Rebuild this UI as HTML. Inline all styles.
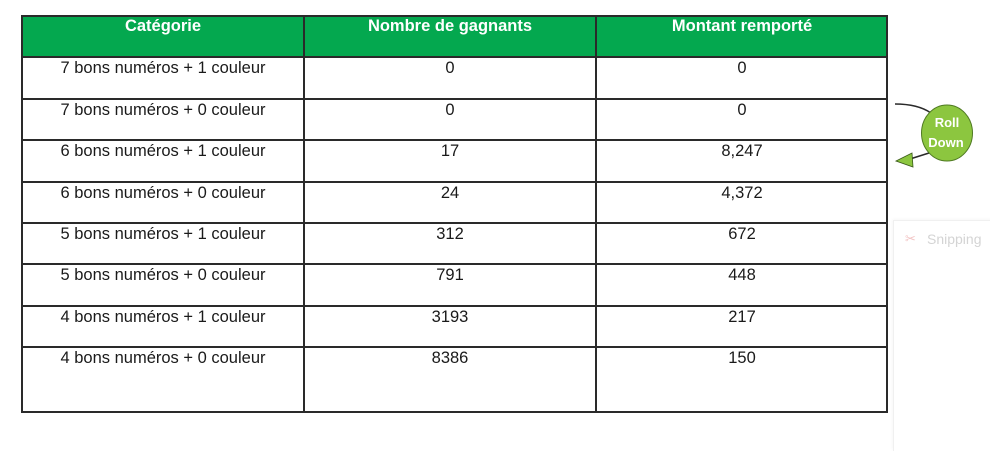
<!DOCTYPE html>
<html>
<head>
<meta charset="utf-8">
<style>
  html,body{margin:0;padding:0;background:#fff;}
  body{width:990px;height:440px;position:relative;overflow:hidden;font-family:"Liberation Sans",Arial,sans-serif;}
  .hdr{position:absolute;left:22px;top:16px;width:865px;height:41px;background:#04a84f;}
  .h{position:absolute;height:2px;background:#2a2a2a;}
  .v{position:absolute;width:2px;background:#2a2a2a;}
  .t{position:absolute;font-size:16.5px;line-height:20px;text-align:center;color:#1a1a1a;white-space:nowrap;}
  .th{position:absolute;font-size:16.5px;line-height:20px;text-align:center;color:#fff;font-weight:bold;white-space:nowrap;}
  .c1{left:22px;width:282px;}
  .c2{left:304px;width:292px;}
  .c3{left:597px;width:290px;}
</style>
</head>
<body>
<div class="hdr"></div>

<!-- horizontal lines -->
<div class="h" style="left:21px;top:15px;width:867px;"></div>
<div class="h" style="left:21px;top:56px;width:867px;"></div>
<div class="h" style="left:21px;top:97.5px;width:867px;"></div>
<div class="h" style="left:21px;top:139px;width:867px;"></div>
<div class="h" style="left:21px;top:180.5px;width:867px;"></div>
<div class="h" style="left:21px;top:221.5px;width:867px;"></div>
<div class="h" style="left:21px;top:263px;width:867px;"></div>
<div class="h" style="left:21px;top:304.5px;width:867px;"></div>
<div class="h" style="left:21px;top:345.5px;width:867px;"></div>
<div class="h" style="left:21px;top:410.5px;width:867px;"></div>

<!-- vertical lines -->
<div class="v" style="left:21px;top:15px;height:397px;"></div>
<div class="v" style="left:302.5px;top:15px;height:397px;"></div>
<div class="v" style="left:595px;top:15px;height:397px;"></div>
<div class="v" style="left:886px;top:15px;height:397px;"></div>

<!-- header -->
<div class="th c1" style="top:16px;">Catégorie</div>
<div class="th c2" style="top:16px;">Nombre de gagnants</div>
<div class="th c3" style="top:16px;">Montant remporté</div>

<!-- rows -->
<div class="t c1" style="top:58.3px;">7 bons numéros + 1 couleur</div>
<div class="t c2" style="top:58.3px;">0</div>
<div class="t c3" style="top:58.3px;">0</div>

<div class="t c1" style="top:99.8px;">7 bons numéros + 0 couleur</div>
<div class="t c2" style="top:99.8px;">0</div>
<div class="t c3" style="top:99.8px;">0</div>

<div class="t c1" style="top:141.3px;">6 bons numéros + 1 couleur</div>
<div class="t c2" style="top:141.3px;">17</div>
<div class="t c3" style="top:141.3px;">8,247</div>

<div class="t c1" style="top:182.8px;">6 bons numéros + 0 couleur</div>
<div class="t c2" style="top:182.8px;">24</div>
<div class="t c3" style="top:182.8px;">4,372</div>

<div class="t c1" style="top:223.8px;">5 bons numéros + 1 couleur</div>
<div class="t c2" style="top:223.8px;">312</div>
<div class="t c3" style="top:223.8px;">672</div>

<div class="t c1" style="top:265.3px;">5 bons numéros + 0 couleur</div>
<div class="t c2" style="top:265.3px;">791</div>
<div class="t c3" style="top:265.3px;">448</div>

<div class="t c1" style="top:306.8px;">4 bons numéros + 1 couleur</div>
<div class="t c2" style="top:306.8px;">3193</div>
<div class="t c3" style="top:306.8px;">217</div>

<div class="t c1" style="top:347.8px;">4 bons numéros + 0 couleur</div>
<div class="t c2" style="top:347.8px;">8386</div>
<div class="t c3" style="top:347.8px;">150</div>

<!-- Snipping panel (faint) -->
<div style="position:absolute;left:893px;top:220px;width:110px;height:230px;border-left:1px solid #f0f0f0;border-top:1px solid #f0f0f0;background:#fff;box-shadow:-1px -1px 3px rgba(0,0,0,0.03);"></div>
<div style="position:absolute;left:905px;top:231px;font-size:13px;color:#f2c4c4;">✂</div>
<div style="position:absolute;left:927px;top:230px;font-size:14px;line-height:18px;color:#d4d4d4;white-space:nowrap;">Snipping</div>

<!-- Roll Down annotation -->
<svg style="position:absolute;left:0;top:0;" width="990" height="440" viewBox="0 0 990 440">
  <path d="M895 104 Q918 104 931 113" fill="none" stroke="#2a2a2a" stroke-width="1.6"/>
  <path d="M929 153 L910 159" fill="none" stroke="#2a2a2a" stroke-width="1.6"/>
  <polygon points="896,161 912,153 913,167" fill="#8cc63f" stroke="#3a5a1a" stroke-width="0.8"/>
  <ellipse cx="947" cy="133" rx="25.5" ry="28" fill="#8cc63f" stroke="#4f7a22" stroke-width="1"/>
  <text x="947" y="127" text-anchor="middle" font-family="Liberation Sans, Arial, sans-serif" font-weight="bold" font-size="13" fill="#fff">Roll</text>
  <text x="946" y="147" text-anchor="middle" font-family="Liberation Sans, Arial, sans-serif" font-weight="bold" font-size="13" fill="#fff">Down</text>
</svg>
</body>
</html>
